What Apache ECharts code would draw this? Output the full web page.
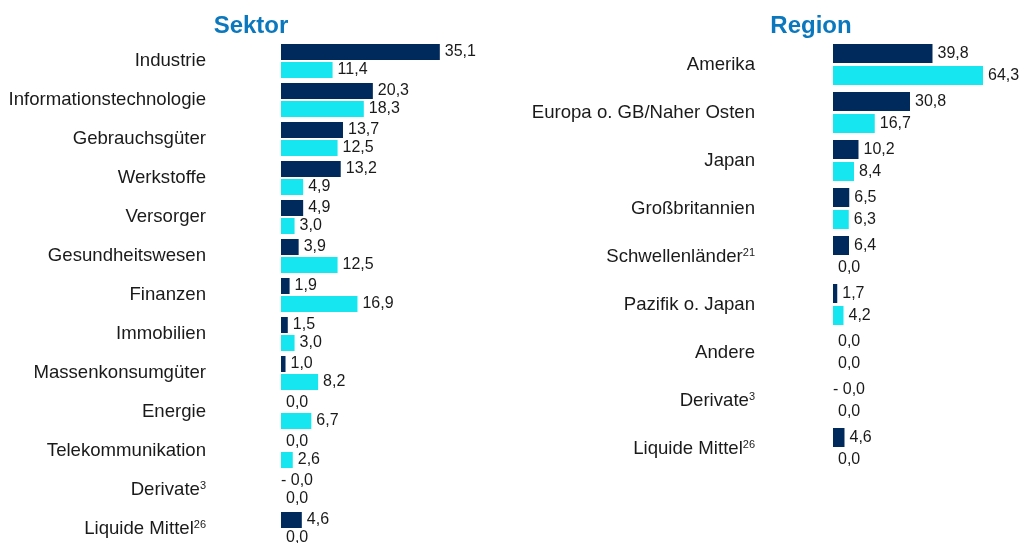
<!DOCTYPE html>
<html>
<head>
<meta charset="utf-8">
<script src="https://cdn.jsdelivr.net/npm/echarts@6/dist/echarts.min.js"></script>
<style>
  html, body { margin: 0; padding: 0; background: #fff; overflow: hidden; }
  #main { width: 1028px; height: 560px; }
</style>
</head>
<body>
<div id="main"></div>
<script>
// Sektor
var sektorCats = ['Industrie', 'Informationstechnologie', 'Gebrauchsgüter', 'Werkstoffe', 'Versorger',
    'Gesundheitswesen', 'Finanzen', 'Immobilien', 'Massenkonsumgüter', 'Energie',
    'Telekommunikation', 'Derivate', 'Liquide Mittel'];
var sektorNotes = ['', '', '', '', '', '', '', '', '', '', '', '3', '26'];
var sektorA = [35.1, 20.3, 13.7, 13.2, 4.9, 3.9, 1.9, 1.5, 1.0, 0.0, 0.0, -0.01, 4.6];
var sektorB = [11.4, 18.3, 12.5, 4.9, 3.0, 12.5, 16.9, 3.0, 8.2, 6.7, 2.6, 0.0, 0.0];

// Region
var regionCats = ['Amerika', 'Europa o. GB/Naher Osten', 'Japan', 'Großbritannien', 'Schwellenländer',
    'Pazifik o. Japan', 'Andere', 'Derivate', 'Liquide Mittel'];
var regionNotes = ['', '', '', '', '21', '', '', '3', '26'];
var regionA = [39.8, 30.8, 10.2, 6.5, 6.4, 1.7, 0.0, -0.01, 4.6];
var regionB = [64.3, 16.7, 8.4, 6.3, 0.0, 4.2, 0.0, 0.0, 0.0];

var navy = '#002a5c';
var cyan = '#15e6f0';
var font = '"Liberation Sans", Arial, sans-serif';

// Zahl im deutschen Format
function fmt(v){
    var s = Math.abs(v).toFixed(1).replace('.', ',');
    return v < 0 ? '- ' + s : s;
}

function catLabel(notes){
    return function(value, index){
        if (notes[index]) {
            return '{n|' + value + '}{s|' + notes[index] + '}';
        }
        return '{n|' + value + '}';
    };
}

function yAxisOpt(idx, cats, notes, margin){
    return {
        type: 'category',
        gridIndex: idx,
        inverse: true,
        data: cats,
        axisLine: {show: false},
        axisTick: {show: false},
        splitLine: {show: false},
        axisLabel: {
            margin: margin,
            formatter: catLabel(notes),
            rich: {
                n: {fontSize: 18.6, fontFamily: font, color: '#1a1a1a'},
                s: {fontSize: 11, fontFamily: font, color: '#1a1a1a', verticalAlign: 'top'}
            }
        }
    };
}

function xAxisOpt(idx, max){
    return {
        type: 'value',
        gridIndex: idx,
        min: 0,
        max: max,
        show: false
    };
}

function barSeries(idx, data, color, width, gap){
    // negative Werte: Label etwas nach links
    var items = data.map(function(v){
        return v < 0 ? {value: v, label: {offset: [-5, 0]}} : v;
    });
    return {
        type: 'bar',
        xAxisIndex: idx,
        yAxisIndex: idx,
        data: items,
        barWidth: width,
        barGap: gap,
        itemStyle: {color: color},
        label: {
            show: true,
            position: 'right',
            distance: 5,
            fontSize: 16,
            fontFamily: font,
            color: '#1a1a1a',
            formatter: function(p){ return fmt(p.value); }
        },
        silent: true,
        animation: false
    };
}

var chart = echarts.init(document.getElementById('main'));

chart.setOption({
    backgroundColor: '#fff',
    animation: false,
    title: [
        {text: 'Sektor', left: 246, top: 9, textAlign: 'center',
         textStyle: {fontSize: 24, fontWeight: 'bold', fontFamily: font, color: '#0b78be'}},
        {text: 'Region', left: 806, top: 9, textAlign: 'center',
         textStyle: {fontSize: 24, fontWeight: 'bold', fontFamily: font, color: '#0b78be'}}
    ],
    grid: [
        {left: 281, top: 41.5, width: 181, height: 507},
        {left: 833, top: 40.5, width: 150, height: 432}
    ],
    xAxis: [xAxisOpt(0, 40), xAxisOpt(1, 60)],
    yAxis: [
        yAxisOpt(0, sektorCats, sektorNotes, 75),
        yAxisOpt(1, regionCats, regionNotes, 78)
    ],
    series: [
        barSeries(0, sektorA, navy, 16, '12.5%'),
        barSeries(0, sektorB, cyan, 16, '12.5%'),
        barSeries(1, regionA, navy, 19, '16%'),
        barSeries(1, regionB, cyan, 19, '16%')
    ]
});
</script>
</body>
</html>
